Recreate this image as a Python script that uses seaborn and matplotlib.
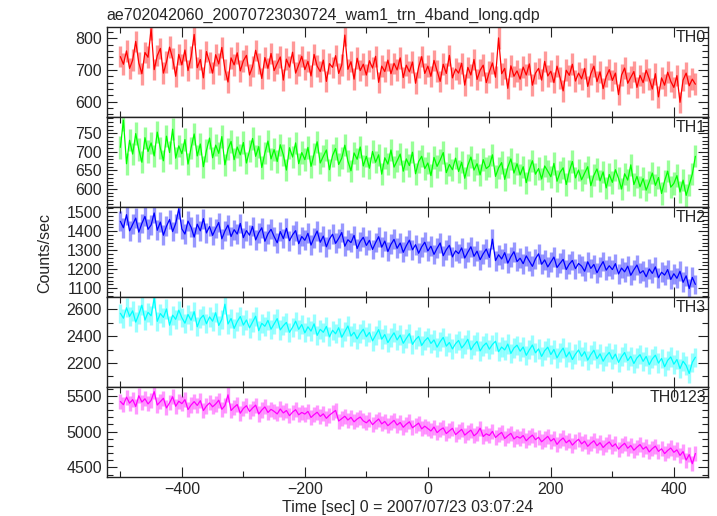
import numpy as np
import pandas as pd
import matplotlib
matplotlib.use("Agg")
import matplotlib.pyplot as plt
from matplotlib.ticker import MultipleLocator
import seaborn as sns

# =========================
# DATA (5 s bins)
# =========================

time_start = -500
time_step = 5

th0 = [742, 718, 760, 705, 731, 790, 722, 688, 755, 740,
       830, 701, 745, 768, 690, 725, 772, 736, 680, 749,
       716, 763, 698, 741, 812, 707, 733, 675, 758, 724,
       690, 748, 719, 771, 702, 662, 738, 716, 754, 697,
       729, 746, 684, 711, 762, 721, 673, 739, 705, 752,
       698, 720, 741, 668, 734, 709, 756, 690, 716, 743,
       701, 727, 681, 749, 712, 695, 731, 664, 720, 708,
       745, 689, 716, 810, 702, 726, 671, 737, 698, 718,
       684, 729, 706, 743, 661, 712, 695, 731, 688, 721,
       700, 738, 676, 715, 694, 725, 658, 709, 742, 689,
       712, 680, 730, 697, 664, 718, 689, 746, 675, 703,
       690, 721, 652, 708, 684, 733, 670, 699, 715, 660,
       694, 722, 677, 801, 688, 705, 642, 713, 680, 697,
       671, 709, 684, 719, 652, 690, 705, 668, 727, 681,
       696, 660, 712, 675, 634, 699, 683, 718, 665, 690,
       672, 705, 648, 688, 712, 663, 694, 641, 679, 701,
       667, 690, 622, 684, 706, 658, 677, 695, 645, 683,
       660, 699, 672, 640, 688, 615, 675, 652, 693, 664,
       645, 682, 598, 668, 690, 650, 671, 655]

th1 = [712, 785, 668, 731, 694, 749, 706, 672, 738, 701,
       724, 689, 753, 710, 676, 742, 698, 761, 683, 716,
       695, 733, 667, 711, 748, 689, 721, 660, 704, 737,
       684, 718, 696, 741, 665, 707, 728, 679, 713, 692,
       725, 670, 703, 736, 688, 714, 658, 697, 729, 681,
       706, 674, 719, 692, 651, 711, 686, 724, 668, 698,
       679, 712, 661, 694, 727, 670, 688, 705, 652, 690,
       709, 666, 683, 718, 675, 649, 697, 680, 713, 662,
       688, 656, 701, 672, 692, 640, 684, 667, 705, 659,
       676, 694, 648, 681, 663, 699, 641, 674, 688, 655,
       670, 636, 685, 661, 678, 698, 644, 666, 652, 683,
       647, 672, 629, 664, 686, 651, 668, 638, 679, 655,
       662, 692, 634, 657, 671, 626, 659, 681, 643, 668,
       638, 660, 617, 652, 676, 640, 655, 627, 662, 648,
       633, 669, 621, 645, 657, 612, 648, 674, 630, 651,
       625, 643, 660, 609, 637, 654, 622, 646, 603, 639,
       618, 652, 629, 600, 641, 624, 665, 612, 634, 606,
       628, 597, 619, 643, 610, 631, 588, 622, 648, 605,
       615, 636, 592, 624, 583, 611, 640, 688]

th2 = [1452, 1418, 1487, 1402, 1436, 1469, 1395, 1441, 1478, 1410,
       1433, 1496, 1405, 1448, 1379, 1426, 1462, 1398, 1441, 1518,
       1412, 1385, 1453, 1421, 1369, 1437, 1402, 1466, 1391, 1425,
       1378, 1414, 1446, 1360, 1401, 1432, 1372, 1408, 1385, 1441,
       1366, 1403, 1379, 1425, 1354, 1392, 1418, 1347, 1386, 1410,
       1372, 1339, 1398, 1361, 1415, 1350, 1381, 1403, 1334, 1372,
       1352, 1389, 1327, 1366, 1401, 1342, 1374, 1318, 1359, 1384,
       1336, 1362, 1393, 1321, 1355, 1340, 1378, 1309, 1346, 1368,
       1325, 1352, 1304, 1340, 1371, 1316, 1348, 1293, 1331, 1357,
       1310, 1338, 1289, 1324, 1353, 1302, 1329, 1284, 1318, 1342,
       1296, 1321, 1278, 1310, 1338, 1271, 1303, 1326, 1265, 1297,
       1282, 1312, 1259, 1290, 1318, 1268, 1295, 1250, 1281, 1306,
       1262, 1358, 1245, 1276, 1254, 1287, 1232, 1266, 1292, 1240,
       1258, 1229, 1270, 1243, 1215, 1255, 1281, 1226, 1249, 1212,
       1238, 1264, 1209, 1231, 1252, 1198, 1227, 1246, 1203, 1230,
       1216, 1189, 1239, 1204, 1225, 1181, 1213, 1240, 1195, 1218,
       1198, 1229, 1175, 1206, 1186, 1216, 1168, 1197, 1222, 1179,
       1192, 1160, 1201, 1178, 1212, 1155, 1184, 1169, 1198, 1146,
       1176, 1152, 1189, 1131, 1165, 1098, 1157, 1120]

th3 = [2571, 2534, 2612, 2548, 2589, 2505, 2563, 2631, 2520, 2578,
       2552, 2684, 2511, 2569, 2540, 2603, 2482, 2557, 2526, 2594,
       2538, 2497, 2562, 2519, 2583, 2470, 2531, 2556, 2493, 2544,
       2512, 2575, 2480, 2526, 2639, 2491, 2532, 2458, 2509, 2547,
       2483, 2521, 2462, 2505, 2549, 2441, 2496, 2474, 2518, 2452,
       2492, 2531, 2447, 2478, 2503, 2429, 2466, 2512, 2451, 2487,
       2425, 2470, 2438, 2492, 2406, 2451, 2429, 2473, 2395, 2444,
       2418, 2463, 2392, 2434, 2476, 2401, 2429, 2380, 2421, 2452,
       2396, 2428, 2365, 2407, 2449, 2378, 2412, 2352, 2391, 2425,
       2372, 2408, 2347, 2384, 2419, 2339, 2375, 2398, 2331, 2366,
       2389, 2346, 2372, 2318, 2359, 2391, 2326, 2353, 2305, 2344,
       2368, 2312, 2340, 2377, 2298, 2335, 2361, 2290, 2327, 2349,
       2303, 2338, 2362, 2284, 2319, 2297, 2341, 2271, 2312, 2333,
       2288, 2319, 2257, 2298, 2334, 2276, 2305, 2249, 2292, 2318,
       2263, 2301, 2238, 2279, 2311, 2245, 2282, 2226, 2266, 2297,
       2250, 2284, 2221, 2263, 2295, 2232, 2268, 2213, 2252, 2279,
       2229, 2266, 2204, 2247, 2278, 2218, 2250, 2196, 2238, 2262,
       2212, 2249, 2187, 2231, 2258, 2199, 2234, 2172, 2220, 2245,
       2191, 2226, 2158, 2213, 2182, 2121, 2205, 2243]

th0123 = [5421, 5376, 5482, 5398, 5447, 5352, 5501, 5413, 5459, 5387,
          5436, 5558, 5372, 5418, 5466, 5331, 5402, 5487, 5354, 5425,
          5391, 5447, 5308, 5372, 5419, 5366, 5432, 5294, 5358, 5401,
          5347, 5386, 5439, 5312, 5363, 5514, 5295, 5341, 5378, 5257,
          5324, 5362, 5281, 5329, 5370, 5246, 5302, 5345, 5268, 5311,
          5283, 5247, 5316, 5261, 5295, 5223, 5272, 5306, 5235, 5268,
          5245, 5282, 5198, 5237, 5271, 5213, 5248, 5186, 5229, 5264,
          5296, 5148, 5181, 5215, 5162, 5199, 5137, 5176, 5204, 5150,
          5123, 5165, 5097, 5139, 5176, 5108, 5142, 5083, 5121, 5157,
          5092, 5128, 5061, 5103, 5137, 5054, 5087, 5119, 5038, 5076,
          5043, 5009, 5064, 4986, 5025, 5052, 4973, 5011, 5046, 4958,
          4996, 5032, 4951, 4988, 5021, 4941, 4977, 5048, 4932, 4969,
          4946, 5003, 4918, 4957, 4989, 4904, 4943, 4976, 4897, 4932,
          4909, 4945, 4872, 4916, 4951, 4887, 4921, 4858, 4897, 4934,
          4868, 4903, 4822, 4875, 4911, 4844, 4881, 4812, 4857, 4893,
          4829, 4866, 4794, 4838, 4872, 4803, 4845, 4778, 4821, 4856,
          4792, 4829, 4756, 4801, 4837, 4768, 4806, 4740, 4783, 4819,
          4755, 4788, 4716, 4762, 4797, 4724, 4760, 4693, 4737, 4771,
          4711, 4745, 4668, 4721, 4602, 4679, 4552, 4694]

band_names = ["TH0", "TH1", "TH2", "TH3", "TH0123"]
band_errors = [34, 30, 52, 72, 105]
band_colors = ["#ff0000", "#00ff00", "#0000ff", "#00ffff", "#ff00ff"]

y_limits = [(552, 836), (552, 794), (1054, 1528), (2021, 2693), (4366, 5624)]
y_major = [100, 50, 100, 200, 500]
y_minor = [20, 10, 20, 100, 100]

title = "ae702042060_20070723030724_wam1_trn_4band_long.qdp"
xlabel = "Time [sec] 0 = 2007/07/23 03:07:24"
ylabel = "Counts/sec"

# =========================
# BUILD TABLE
# =========================

rates = [th0, th1, th2, th3, th0123]
time = time_start + time_step * np.arange(len(th0))
df = pd.DataFrame({"time": time})
for name, vals in zip(band_names, rates):
    df[name] = vals

# =========================
# PLOT
# =========================

sns.set_style("ticks")
plt.rcParams["font.family"] = ["Liberation Sans", "DejaVu Sans"]

fig, axes = plt.subplots(5, 1, figsize=(7.17, 5.16), dpi=100, sharex=True)
fig.subplots_adjust(left=0.149, right=0.987, top=0.948, bottom=0.0756, hspace=0)

for i, ax in enumerate(axes):
    name = band_names[i]
    col = band_colors[i]

    # error bars (lighter) then the rate curve
    ax.vlines(df["time"], df[name] - band_errors[i], df[name] + band_errors[i],
              color=col, alpha=0.4, linewidth=2.4)
    sns.lineplot(x="time", y=name, data=df, ax=ax, color=col, linewidth=0.9)

    ax.set_xlim(-522, 455)
    ax.set_ylim(*y_limits[i])
    ax.yaxis.set_major_locator(MultipleLocator(y_major[i]))
    ax.yaxis.set_minor_locator(MultipleLocator(y_minor[i]))
    ax.xaxis.set_major_locator(MultipleLocator(200))
    ax.xaxis.set_minor_locator(MultipleLocator(100))
    ax.tick_params(which="both", direction="in", top=True, right=True,
                   labelsize=11.5, width=0.8, color="#222222")
    ax.tick_params(which="major", length=7)
    ax.tick_params(which="minor", length=4)
    ax.set_xlabel("")
    ax.set_ylabel("")
    for sp in ax.spines.values():
        sp.set_linewidth(1.0)
        sp.set_color("#222222")

    ax.text(0.997, 0.97, name, transform=ax.transAxes, ha="right", va="top",
            fontsize=11.5)

axes[0].set_title(title, loc="left", fontsize=11.5, pad=5)
axes[-1].set_xlabel(xlabel, fontsize=11.5, labelpad=2)
fig.text(0.063, 0.51, ylabel, rotation=90, ha="center", va="center", fontsize=11.5)

plt.savefig("out.png", dpi=100)
